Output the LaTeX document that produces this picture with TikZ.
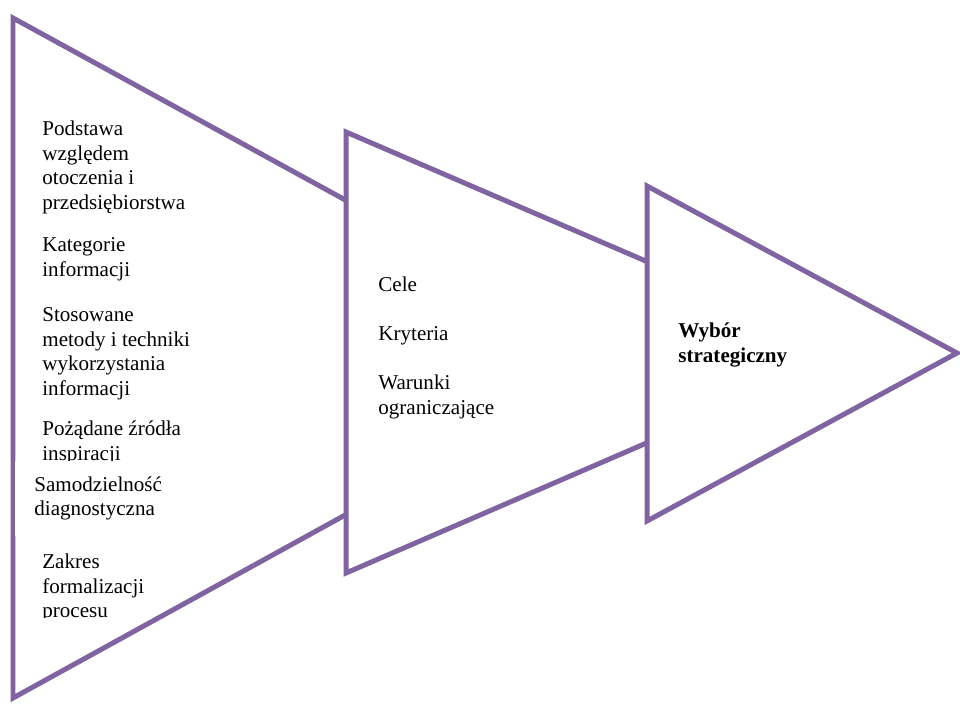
\documentclass[tikz,border=0pt]{standalone}
\usepackage{fontspec}
\setmainfont{Liberation Serif}
\usepackage{tikz}
\usetikzlibrary{positioning}
\definecolor{stagepurple}{RGB}{128, 100, 162}
\tikzset{
  stage/.style={draw=stagepurple, fill=white, line width=0.1cm},
  itemtext/.style={anchor=north west, align=left, inner sep=0pt, font=\fontsize{12}{14}\selectfont}
}

\begin{document}
\begin{tikzpicture}[x=0.02cm, y=-0.02cm]
  \useasboundingbox (0,0) rectangle (960,704);

  % Analysis stage
  \draw[stage] (13,18) -- (632,357) -- (13,698) -- cycle;
  \node[itemtext] (basis) at (42,118) {\strut Podstawa\\względem\\otoczenia i\\przedsiębiorstwa};
  \node[itemtext] (categories) at (42,234) {\strut Kategorie\\informacji};
  \node[itemtext] (methods) at (42,304) {\strut Stosowane\\metody i techniki\\wykorzystania\\informacji};
  \node[itemtext] (sources) at (42,418) {\strut Pożądane źródła\\inspiracji};
  \node[itemtext, fill=white, inner xsep=0.38cm, inner ysep=0.25cm] (autonomy) at (15,461) {\strut Samodzielność\\diagnostyczna\strut};
  \begin{scope}
    \clip (0,0) rectangle (340,617);
    \node[itemtext] (formal) at (42,551) {\strut Zakres\\formalizacji\\procesu};
  \end{scope}

  % Goals stage
  \draw[stage] (346,132) -- (857,352) -- (346,573) -- cycle;
  \node[itemtext] (goals) at (378,274) {\strut Cele};
  \node[itemtext] (criteria) at (378,323) {\strut Kryteria};
  \node[itemtext] (limits) at (378,372) {\strut Warunki\\ograniczające};

  % Choice stage
  \draw[stage] (647,186) -- (957,353) -- (647,521) -- cycle;
  \node[itemtext, font=\fontsize{12}{14}\selectfont\bfseries] (choice) at (678,320) {\strut Wybór\\strategiczny};
\end{tikzpicture}
\end{document}
